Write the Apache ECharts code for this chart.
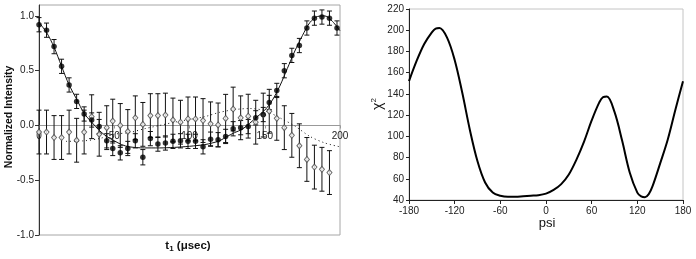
<!DOCTYPE html>
<html>
<head>
<meta charset="utf-8">
<script src="https://cdn.jsdelivr.net/npm/echarts@6/dist/echarts.min.js"></script>
<style>
  html, body { margin: 0; padding: 0; background: #fff; }
  #chart { width: 696px; height: 259px; }
</style>
</head>
<body>
<div id="chart"></div>
<script>
// left panel: t1 in usec
const tPoints = [0, 5, 10, 15, 20, 25, 30, 35, 40, 45, 49, 54, 59, 64, 69, 74, 79, 84, 89, 94,
  99, 104, 109, 114, 119, 124, 129, 134, 139, 144, 149, 153, 158, 163, 168, 173, 178, 183, 188, 193, 198]
const filledY = [0.92, 0.87, 0.72, 0.54, 0.37, 0.22, 0.105, 0.05, -0.01, -0.14,
  -0.21, -0.25, -0.21, -0.14, -0.29, -0.12, -0.17, -0.16, -0.145, -0.14,
  -0.145, -0.145, -0.195, -0.125, -0.13, -0.10, -0.03, -0.02, -0.01, 0.07,
  0.10, 0.21, 0.32, 0.50, 0.64, 0.73, 0.89, 0.98, 0.99, 0.98, 0.89]
const filledErr = [0.065, 0.065, 0.065, 0.065, 0.065, 0.065, 0.065, 0.065, 0.065, 0.065,
  0.065, 0.065, 0.065, 0.065, 0.07, 0.065, 0.065, 0.065, 0.065, 0.065,
  0.065, 0.065, 0.065, 0.065, 0.065, 0.065, 0.065, 0.065, 0.065, 0.065,
  0.065, 0.065, 0.065, 0.065, 0.065, 0.065, 0.065, 0.065, 0.065, 0.065, 0.065]
const openY = [-0.06, -0.06, -0.11, -0.11, -0.06, -0.135, -0.06, 0.08, -0.08, -0.02,
  0.04, 0.0, -0.055, 0.07, 0.01, 0.09, 0.09, 0.095, 0.05, 0.03,
  0.06, 0.06, 0.045, 0.015, 0.005, 0.064, 0.15, 0.07, 0.085, 0.03,
  0.095, 0.13, 0.065, -0.02, -0.09, -0.185, -0.31, -0.38, -0.40, -0.43]
const openErr = [0.2, 0.2, 0.2, 0.2, 0.2, 0.2, 0.2, 0.2, 0.2, 0.2,
  0.2, 0.2, 0.2, 0.2, 0.2, 0.2, 0.2, 0.2, 0.2, 0.2,
  0.2, 0.2, 0.2, 0.2, 0.2, 0.22, 0.2, 0.2, 0.2, 0.2,
  0.2, 0.2, 0.2, 0.2, 0.2, 0.2, 0.2, 0.2, 0.2, 0.2]
const fitX = [0, 5, 10, 15, 20, 25, 30, 35, 40, 45, 50, 55, 60, 70, 80, 90, 100, 110,
  115, 120, 125, 130, 135, 140, 145, 150, 155, 160, 165, 170, 175, 180, 185, 190, 195, 200]
const fitY = [0.94, 0.85, 0.715, 0.54, 0.37, 0.24, 0.11, 0.03, -0.045, -0.10, -0.14, -0.175, -0.195,
  -0.205, -0.205, -0.20, -0.19, -0.175,
  -0.16, -0.14, -0.10, -0.065, -0.035, 0.02, 0.08, 0.14, 0.23, 0.36, 0.52, 0.68, 0.82, 0.94, 0.995, 1.0, 0.95, 0.865]
const dotX = [18, 30, 40, 50, 60, 70, 80, 90, 100, 110, 120, 130, 140, 150, 160, 170, 180, 190, 200]
const dotY = [-0.145, -0.14, -0.12, -0.08, -0.065, -0.03, 0.0, 0.03, 0.055, 0.08, 0.12, 0.145, 0.155,
  0.135, 0.07, -0.005, -0.1, -0.16, -0.195]
const leftYTicks = [-1, -0.5, 0, 0.5, 1]
const leftXTicks = [0, 50, 100, 150, 200]

// right panel: chi^2 vs psi
const psi = [-180, -170, -160, -150, -145, -140, -130, -120, -110, -100, -90, -80, -70, -60, -50, -40,
  -30, -20, -10, 0, 10, 20, 30, 40, 50, 60, 70, 75, 80, 90, 100, 110, 120, 125, 130, 135, 140, 150, 160, 170, 180]
const chi2 = [152, 171, 187, 198, 201.5, 202, 193, 172, 141, 106, 76.5, 56.5, 47, 44, 43, 43,
  43.5, 44, 44.5, 46, 49.5, 55, 64, 78, 95, 115, 132, 137, 137.5, 123, 96, 66, 47, 43.5, 42.6, 45.5, 53, 74.5, 97, 125, 152]

const FONT = "'Liberation Sans', Arial, sans-serif"

function errorBars(params, api) {
  const x = api.value(0)
  const top = api.coord([x, api.value(2)])
  const bot = api.coord([x, api.value(1)])
  const w = 2.5
  const style = { stroke: "#111", lineWidth: 1 }
  return {
    type: "group",
    children: [
      { type: "line", shape: { x1: top[0], y1: top[1], x2: bot[0], y2: bot[1] }, style },
      { type: "line", shape: { x1: top[0] - w, y1: top[1], x2: top[0] + w, y2: top[1] }, style },
      { type: "line", shape: { x1: bot[0] - w, y1: bot[1], x2: bot[0] + w, y2: bot[1] }, style },
    ],
  }
}

const chart = echarts.init(document.getElementById("chart"))

chart.setOption({
  animation: false,
  textStyle: { fontFamily: FONT },
  grid: [
    { left: 39, top: 5, width: 301, height: 230, show: true, borderColor: "#a6a6a6", borderWidth: 1 },
    { left: 409, top: 9, width: 274, height: 191, show: true, borderColor: "#c4c4c4", borderWidth: 1 },
  ],
  xAxis: [
    {
      // drawn across the zero line of the left panel
      gridIndex: 0, type: "value", min: 0, max: 200, interval: 50,
      position: "bottom", offset: -109.5,
      axisLine: { onZero: false, lineStyle: { color: "#999" } },
      axisTick: { length: 3, lineStyle: { color: "#999" }, customValues: leftXTicks },
      axisLabel: { fontSize: 10, color: "#222", margin: 6, fontFamily: FONT, customValues: leftXTicks },
      splitLine: { show: false },
    },
    {
      gridIndex: 1, type: "value", min: -180, max: 180, interval: 60,
      axisLine: { onZero: false, lineStyle: { color: "#222" } },
      axisTick: { length: 4, lineStyle: { color: "#222" } },
      axisLabel: { fontSize: 10, color: "#222", margin: 6, fontFamily: FONT },
      splitLine: { show: false },
    },
  ],
  yAxis: [
    {
      gridIndex: 0, type: "value", min: -1, max: 1.1, interval: 0.5,
      axisLine: { show: true, onZero: false, lineStyle: { color: "#333" } },
      axisTick: { show: true, length: 4, lineStyle: { color: "#333" }, customValues: leftYTicks },
      axisLabel: {
        fontSize: 10, color: "#222", margin: 5, fontFamily: FONT,
        customValues: leftYTicks, formatter: (v) => v.toFixed(1),
      },
      splitLine: { show: false },
    },
    {
      gridIndex: 1, type: "value", min: 40, max: 220, interval: 20,
      axisLine: { show: true, onZero: false, lineStyle: { color: "#222" } },
      axisTick: { show: true, length: 3, lineStyle: { color: "#222" } },
      axisLabel: { fontSize: 10, color: "#222", margin: 5, fontFamily: FONT },
      splitLine: { show: false },
    },
  ],
  graphic: [
    {
      type: "text", x: 9, y: 117, rotation: Math.PI / 2,
      style: { text: "Normalized Intensity", font: "bold 10.5px " + FONT, fill: "#111", align: "center", verticalAlign: "middle" },
    },
    {
      type: "text", x: 188, y: 246,
      style: {
        text: "{a|t}{s|1}{a| (μsec)}", align: "center", verticalAlign: "middle", fill: "#111",
        rich: {
          a: { fontSize: 11.5, fontWeight: "bold", fontFamily: FONT, fill: "#111" },
          s: { fontSize: 8, fontWeight: "bold", fontFamily: FONT, fill: "#111", padding: [5, 0, 0, 0] },
        },
      },
    },
    {
      type: "text", x: 378, y: 104, rotation: Math.PI / 2,
      style: {
        text: "{c|χ}{s|2}", align: "center", verticalAlign: "middle", fill: "#111",
        rich: {
          c: { fontSize: 14, fontFamily: FONT, fill: "#111" },
          s: { fontSize: 8, fontFamily: FONT, fill: "#111", padding: [0, 0, 8, 0] },
        },
      },
    },
    {
      type: "text", x: 547, y: 223,
      style: { text: "psi", font: "13px " + FONT, fill: "#111", align: "center", verticalAlign: "middle" },
    },
  ],
  series: [
    {
      type: "custom", xAxisIndex: 0, yAxisIndex: 0, renderItem: errorBars,
      encode: { x: 0, y: [1, 2] },
      data: tPoints.slice(0, openY.length).map((t, i) => [t, openY[i] - openErr[i], openY[i] + openErr[i]]),
      z: 2,
    },
    {
      type: "custom", xAxisIndex: 0, yAxisIndex: 0, renderItem: errorBars,
      encode: { x: 0, y: [1, 2] },
      data: tPoints.map((t, i) => [t, filledY[i] - filledErr[i], filledY[i] + filledErr[i]]),
      z: 2,
    },
    {
      type: "line", xAxisIndex: 0, yAxisIndex: 0, smooth: 0.3, showSymbol: false,
      lineStyle: { color: "#111", width: 1 },
      data: fitX.map((x, i) => [x, fitY[i]]),
      z: 3,
    },
    {
      type: "line", xAxisIndex: 0, yAxisIndex: 0, smooth: 0.3, showSymbol: false,
      lineStyle: { color: "#111", width: 1, type: [1, 3] },
      data: dotX.map((x, i) => [x, dotY[i]]),
      z: 3,
    },
    {
      type: "scatter", xAxisIndex: 0, yAxisIndex: 0, symbol: "diamond", symbolSize: [5, 6],
      itemStyle: { color: "#fff", borderColor: "#444", borderWidth: 1 },
      data: tPoints.slice(0, openY.length).map((t, i) => [t, openY[i]]),
      z: 4,
    },
    {
      type: "scatter", xAxisIndex: 0, yAxisIndex: 0, symbol: "circle", symbolSize: 5.5,
      itemStyle: { color: "#000" },
      data: tPoints.map((t, i) => [t, filledY[i]]),
      z: 5,
    },
    {
      type: "line", xAxisIndex: 1, yAxisIndex: 1, smooth: 0.35, showSymbol: false,
      lineStyle: { color: "#000", width: 2 },
      data: psi.map((p, i) => [p, chi2[i]]),
    },
  ],
})
</script>
</body>
</html>
